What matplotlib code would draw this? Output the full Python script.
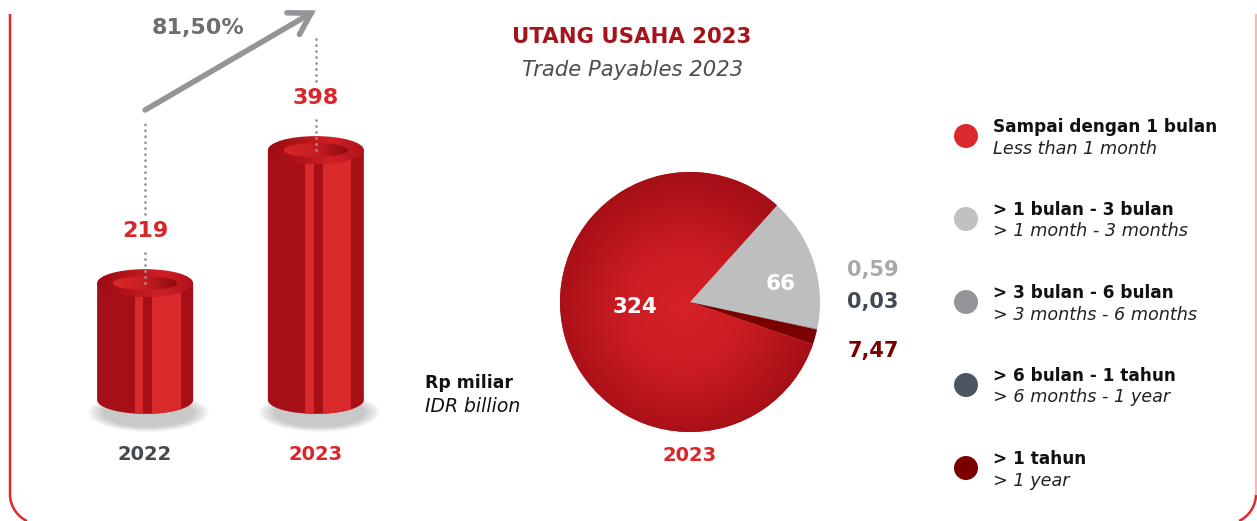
import numpy as np
import matplotlib.pyplot as plt
from matplotlib.patches import Ellipse, Rectangle, Circle, PathPatch, FancyArrowPatch
from matplotlib.path import Path
from matplotlib.colors import LinearSegmentedColormap

plt.rcParams['font.family'] = ['DejaVu Sans']

# Data
years = ['2022', '2023']
payables = [219, 398]
growth_label = '81,50%'

aging_id = ['Sampai dengan 1 bulan', '> 1 bulan - 3 bulan', '> 3 bulan - 6 bulan',
            '> 6 bulan - 1 tahun', '> 1 tahun']
aging_en = ['Less than 1 month', '> 1 month - 3 months', '> 3 months - 6 months',
            '> 6 months - 1 year', '> 1 year']
aging_values = [324, 66, 0.59, 0.03, 7.47]
aging_labels = ['324', '66', '0,59', '0,03', '7,47']

# Colours
RED = '#d9262a'
BODY_DARK = '#a70f16'
BODY_LIGHT = '#d92a2b'
TITLE_RED = '#a6131b'
GREY_ARROW = '#949599'
slice_colors = ['#c81d23', '#bdbfbe', '#98999d', '#4a535c', '#7a0000']
legend_colors = ['#dc2a2c', '#c0c1c0', '#939598', '#4d5660', '#7a0000']
small_label_colors = [None, None, '#a7a9ac', '#414a52', '#7a0000']
year_colors = ['#414a52', RED]

W, H = 1257, 521
fig = plt.figure(figsize=(W / 100, H / 100), dpi=100)

# background axes in pixel units for frame, titles and legend
bg = fig.add_axes([0, 0, 1, 1])
bg.set_xlim(0, W)
bg.set_ylim(H, 0)
bg.axis('off')

# rounded frame, open at the top and cut by the bottom edge
r_c = 30
cy = 494
t = np.linspace(np.pi, np.pi - np.arcsin((H - cy) / r_c), 30)
left_side = np.column_stack([10 + r_c + r_c * np.cos(t), cy + r_c * np.sin(-t + np.pi)])
left_side = np.vstack([[10, 14], left_side])
bg.plot(left_side[:, 0], left_side[:, 1], color='#e0272b', lw=1.8, solid_capstyle='butt')
t2 = np.linspace(0, np.arcsin((H - cy) / r_c), 30)
right_corner = np.column_stack([1256 - r_c + r_c * np.cos(t2), cy + r_c * np.sin(t2)])
bg.plot(right_corner[:, 0], right_corner[:, 1], color='#e0272b', lw=1.8, solid_capstyle='butt')
bg.plot([1256, 1256], [15, cy], color='#f4b9b9', lw=1.6)

# titles
bg.text(632, 37, 'UTANG USAHA 2023', color=TITLE_RED, fontsize=15.3, fontweight='bold',
        ha='center', va='center')
bg.text(633, 70, 'Trade Payables 2023', color='#4d4d4f', fontsize=15.2, style='italic',
        ha='center', va='center')

# unit note
bg.text(425, 383, 'Rp miliar', color='#111111', fontsize=12.4, fontweight='bold', va='center')
bg.text(425, 407, 'IDR billion', color='#111111', fontsize=13.5, style='italic', va='center')

# legend
for i in range(len(aging_id)):
    yc = 136 + i * 83
    bg.add_patch(Circle((966, yc), 12, color=legend_colors[i], lw=0))
    bg.text(993, yc - 9, aging_id[i], color='#111111', fontsize=12.2, fontweight='bold', va='center')
    bg.text(993, yc + 12.5, aging_en[i], color='#222222', fontsize=12.7, style='italic', va='center')

# ---- cylinder bars ----
ax = fig.add_axes([0, 0, 420 / W, 1])
xlim = (-0.85, 1.61)
ylim = (-101, 600)
ux = (xlim[1] - xlim[0]) / 420
uy = (ylim[1] - ylim[0]) / H
cyl_base = 62
r = 48 * ux
e = 14 * uy


def gradient_fill(axis, colors, clip, extent, z, radial=False):
    cmap = LinearSegmentedColormap.from_list('g', colors)
    if radial:
        yy, xx = np.mgrid[-1:1:300j, -1:1:300j]
        img = np.clip(np.hypot(xx + 0.05, yy + 0.05), 0, 1)
    else:
        img = np.linspace(0, 1, 256)[None, :]
    im = axis.imshow(img, cmap=cmap, extent=extent, aspect='auto', zorder=z,
                     interpolation='bicubic', origin='lower')
    im.set_clip_path(clip)
    return im


def draw_cylinder(axis, x, top, base):
    # soft shadow under the base
    for k in range(6):
        s = 1.25 - k * 0.06
        axis.add_patch(Ellipse((x + 0.02, base - 0.9 * e), 2 * r * s, 2 * e * s * 1.1,
                               color='#6d6e71', alpha=0.07, lw=0, zorder=2))
    arc = np.linspace(np.pi, 2 * np.pi, 50)
    verts = [(x - r, top), (x - r, base)]
    verts += list(zip(x + r * np.cos(arc), base + e * np.sin(arc)))
    verts += [(x + r, top), (x - r, top)]
    body = PathPatch(Path(verts, closed=True), fc=BODY_DARK, ec='none', zorder=3)
    axis.add_patch(body)
    for f0, f1 in [(0.39, 0.48), (0.57, 0.87)]:
        st = Rectangle((x - r + 2 * r * f0, base - 2 * e), 2 * r * (f1 - f0), top - base + 2 * e,
                       fc=BODY_LIGHT, ec='none', zorder=4)
        axis.add_patch(st)
        st.set_clip_path(body)
    rim = Ellipse((x, top), 2 * r, 2 * e, fc='none', ec='none', zorder=5)
    axis.add_patch(rim)
    gradient_fill(axis, ['#9c0c12', '#b2141a', '#cf2126', '#b0121a'], rim,
                  (x - r, x + r, top - e, top + e), 5)
    hole = Ellipse((x, top), 2 * r * 0.67, 2 * e * 0.5, fc='none', ec='none', zorder=6)
    axis.add_patch(hole)
    gradient_fill(axis, ['#d8282a', '#c61d22', '#8c0a0f'], hole,
                  (x - r * 0.67, x + r * 0.67, top - e * 0.5, top + e * 0.5), 6)


dot_style = dict(color='#939598', lw=2.0, linestyle=(0, (0.05, 2.1)), dash_capstyle='round', zorder=7)
arrow_y = [452, 586]
for i, v in enumerate(payables):
    draw_cylinder(ax, i, v, cyl_base)
    label_y = v + 52 * uy
    ax.text(i, label_y, str(v), color=RED, fontsize=16, fontweight='bold',
            ha='center', va='center', zorder=8)
    ax.plot([i, i], [v, label_y - 17 * uy], **dot_style)
    ax.plot([i, i], [label_y + 17 * uy, arrow_y[i] - 12 * uy - i * 16 * uy], **dot_style)
    ax.text(i, 600 - 455 * uy, years[i], color=year_colors[i], fontsize=14, fontweight='bold',
            ha='center', va='center')

arrow = FancyArrowPatch((0, arrow_y[0]), (1, arrow_y[1]),
                        arrowstyle='->,head_length=15,head_width=9', lw=4, color=GREY_ARROW,
                        shrinkA=0, shrinkB=0, capstyle='round', joinstyle='miter', zorder=7)
ax.add_patch(arrow)
ax.text(0.31, 600 - 28 * uy, growth_label, color='#6d6e71', fontsize=16, fontweight='bold',
        ha='center', va='center')

ax.set_xlim(*xlim)
ax.set_ylim(*ylim)
ax.axis('off')

# ---- pie ----
axp = fig.add_axes([560 / W, (H - 432) / H, 260 / W, 260 / H])
wedges, _ = axp.pie(aging_values, colors=slice_colors, startangle=-19, counterclock=False,
                    wedgeprops=dict(linewidth=0))
gradient_fill(axp, ['#d52227', '#c91c22', '#a70f17'], wedges[0], (-1, 1, -1, 1), 2, radial=True)

axp.text(-0.42, -0.04, aging_labels[0], color='white', fontsize=15.5, fontweight='bold',
         ha='center', va='center', zorder=5)
axp.text(0.7, 0.14, aging_labels[1], color='white', fontsize=15.5, fontweight='bold',
         ha='center', va='center', zorder=5)
for i, yy in zip([2, 3, 4], [0.246, 0.0, -0.377]):
    axp.text(1.21, yy, aging_labels[i], color=small_label_colors[i], fontsize=15,
             fontweight='bold', ha='left', va='center')
axp.text(0, -1.18, '2023', color=RED, fontsize=14, fontweight='bold', ha='center', va='center')
axp.set_xlim(-1, 1)
axp.set_ylim(-1, 1)
axp.axis('off')

fig.savefig('out.png', dpi=100)
